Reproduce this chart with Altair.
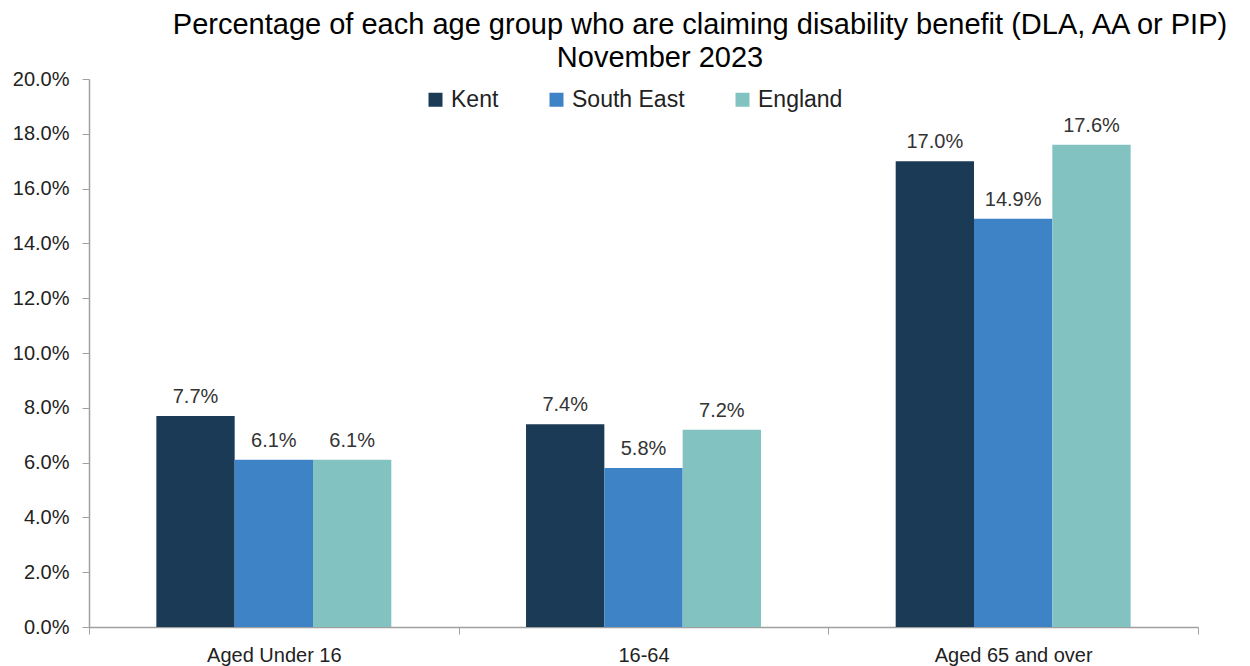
import altair as alt
import pandas as pd

groups = ["Aged Under 16", "16-64", "Aged 65 and over"]
areas = ["Kent", "South East", "England"]
kent = [0.077, 0.074, 0.170]
south_east = [0.061, 0.058, 0.149]
england = [0.061, 0.072, 0.176]
colors = ["#1a3a56", "#3e83c6", "#82c3c1"]
title_lines = ["Percentage of each age group who are claiming disability benefit (DLA, AA or PIP)",
               "November 2023"]

rows = []
for i, g in enumerate(groups):
    for a, vals in zip(areas, [kent, south_east, england]):
        rows.append({"group": g, "area": a, "value": vals[i]})
df = pd.DataFrame(rows)

FONT = "Liberation Sans"

x = alt.X("group:N", sort=groups,
          scale=alt.Scale(paddingInner=0, paddingOuter=0),
          axis=alt.Axis(title=None, labelAngle=0, tickBand="extent",
                        labelFontSize=20, labelColor="#222222", labelFont=FONT,
                        labelPadding=11, domainColor="#a0a0a0", tickColor="#a0a0a0",
                        tickSize=7, domainWidth=1.5))
xo = alt.XOffset("area:N", sort=areas, scale=alt.Scale(paddingInner=0, paddingOuter=0.86))
y = alt.Y("value:Q", scale=alt.Scale(domain=[0, 0.2]),
          axis=alt.Axis(title=None, format=".1%", values=[i / 50 for i in range(11)],
                        labelFontSize=20, labelColor="#222222", labelFont=FONT,
                        grid=False, domainColor="#a0a0a0", tickColor="#a0a0a0",
                        tickSize=7, labelPadding=13, domainWidth=1.5))
color = alt.Color("area:N", sort=areas,
                  scale=alt.Scale(domain=areas, range=colors),
                  legend=alt.Legend(title=None, orient="none", direction="horizontal",
                                    legendX=335, legendY=9, symbolType="square",
                                    symbolSize=196, symbolStrokeWidth=0,
                                    labelFontSize=23, labelFont=FONT, labelColor="#222222",
                                    columnPadding=46, labelOffset=4))

bars = alt.Chart(df).mark_bar().encode(x=x, xOffset=xo, y=y, color=color)
labels = alt.Chart(df).mark_text(baseline="bottom", dy=-9, fontSize=20, font=FONT,
                                  color="#333333").encode(
    x=x, xOffset=xo, y=y, text=alt.Text("value:Q", format=".1%"))

t1 = alt.Chart(alt.Data(values=[{"t": title_lines[0]}])).mark_text(
    fontSize=29, font=FONT, color="#000000", baseline="middle", align="center"
).encode(text="t:N", x=alt.value(611), y=alt.value(-54))
t2 = alt.Chart(alt.Data(values=[{"t": title_lines[1]}])).mark_text(
    fontSize=29, font=FONT, color="#000000", baseline="middle", align="center"
).encode(text="t:N", x=alt.value(571), y=alt.value(-21))

chart = alt.layer(bars, labels, t1, t2).properties(
    width=1109, height=548,
    padding={"left": 89, "top": 79, "right": 52, "bottom": 39},
    autosize=alt.AutoSizeParams(type="none"),
).configure_view(stroke=None)

chart.save("out.html", embed_options={"renderer": "svg", "actions": False})
